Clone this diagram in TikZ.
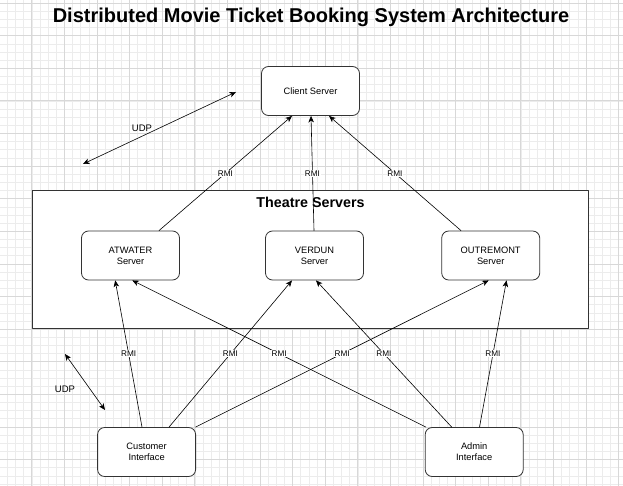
\documentclass[tikz,border=0pt]{standalone}
\usepackage{fontspec}
\setmainfont{Liberation Sans}
\usetikzlibrary{arrows.meta}
\definecolor{gridminor}{RGB}{236,236,236}
\definecolor{gridmajor}{RGB}{216,216,216}
\definecolor{boxline}{RGB}{51,51,51}

\begin{document}
\begin{tikzpicture}[line cap=round,line join=round,>={Stealth[length=6.5pt,width=5.5pt,inset=1.8pt]},x=1pt,y=-1pt,
		srvbox/.style={draw=boxline,line width=0.8pt,fill=white,rounded corners=7pt,minimum width=98pt,minimum height=49pt,inner sep=0pt,align=center,font=\fontsize{9.3}{11}\selectfont},
		rmi/.style={->,line width=0.6pt},
		rmilabel/.style={midway,fill=white,inner sep=0.8pt,font=\fontsize{8.2}{9}\selectfont},
		udp/.style={<->,line width=0.6pt}]
	\useasboundingbox (0,0) rectangle (623,486);
	\fill[white] (0,0) rectangle (623,486);
	% background grid
	\begin{scope}[shift={(-0.8,3.1)}]
		\draw[gridminor,line width=0.6pt,xstep=8.15pt,ystep=8.15pt] (0.8,-3.1) grid (623.8,482.9);
		\draw[gridmajor,line width=0.8pt,xstep=32.6pt,ystep=32.6pt] (0.8,-3.1) grid (623.8,482.9);
	\end{scope}
	\node (title) at (311,17) {\fontsize{20}{24}\selectfont\bfseries Distributed Movie Ticket Booking System Architecture};
	% theatre servers group
	\node[draw=boxline,line width=0.8pt,fill=white,minimum width=556pt,minimum height=138pt,inner sep=0pt] (theatre) at (310,259) {};
	\node (theatretitle) at (310.5,202) {\fontsize{14.3}{17}\selectfont\bfseries Theatre Servers};
	\node[srvbox] (client) at (310.5,91) {Client Server};
	\node[srvbox] (atwater) at (130.5,255.5) {ATWATER\\Server};
	\node[srvbox] (verdun) at (314.5,255.5) {VERDUN\\Server};
	\node[srvbox] (outremont) at (490.7,255.5) {OUTREMONT\\Server};
	\node[srvbox] (customer) at (146.6,452) {Customer\\Interface};
	\node[srvbox] (admin) at (474.2,452) {Admin\\Interface};
	% servers to client
	\draw[rmi] ([xshift=28.5pt]atwater.north) -- ([xshift=-18.5pt]client.south) node[rmilabel] {RMI};
	\draw[rmi] ([xshift=-0.5pt]verdun.north) -- ([xshift=0.5pt]client.south) node[rmilabel] {RMI};
	\draw[rmi] ([xshift=-29.7pt]outremont.north) -- ([xshift=18.5pt]client.south) node[rmilabel] {RMI};
	% interfaces to servers
	\draw[rmi] ([xshift=-4.6pt]customer.north) -- ([xshift=-15.3pt]atwater.south) node[rmilabel] {RMI};
	\draw[rmi] ([xshift=22.4pt]customer.north) -- ([xshift=-22.5pt]verdun.south) node[rmilabel] {RMI};
	\draw[rmi] ([xshift=49pt]customer.north) -- ([xshift=-2pt]outremont.south) node[rmilabel] {RMI};
	\draw[rmi] ([xshift=-48.2pt]admin.north) -- ([xshift=1.8pt]atwater.south) node[rmilabel] {RMI};
	\draw[rmi] ([xshift=-22.5pt]admin.north) -- ([xshift=1.5pt]verdun.south) node[rmilabel] {RMI};
	\draw[rmi] ([xshift=5.3pt]admin.north) -- ([xshift=15.8pt]outremont.south) node[rmilabel] {RMI};
	% udp links
	\coordinate (udpa) at (83,164);
	\coordinate (udpb) at (236,92);
	\coordinate (udpc) at (65,354);
	\coordinate (udpd) at (105,410);
	\draw[udp] (udpa) -- (udpb);
	\draw[udp] (udpc) -- (udpd);
	\node[font=\fontsize{9.5}{11}\selectfont] (udptop) at (142,128) {UDP};
	\node[font=\fontsize{9.5}{11}\selectfont] (udpbottom) at (65,389) {UDP};
\end{tikzpicture}
\end{document}
